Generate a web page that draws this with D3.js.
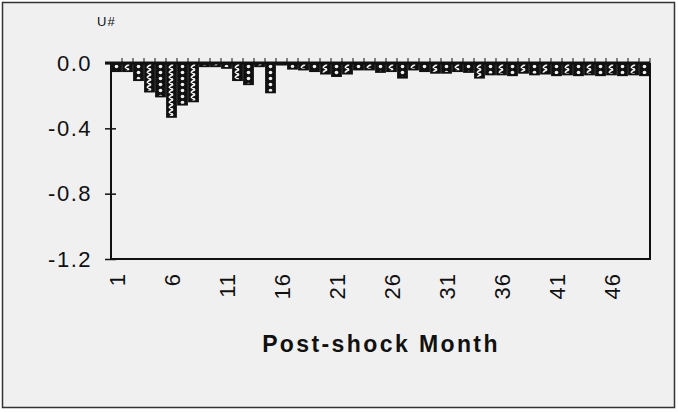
<!DOCTYPE html>
<html>
<head>
<meta charset="utf-8">
<script src="https://cdn.jsdelivr.net/npm/d3@7"></script>
<style>
  body { margin: 0; background: #fff; }
  text { font-family: "Liberation Sans", Arial, sans-serif; fill: #111; }
</style>
</head>
<body>
<script>
// months after the shock
var months = d3.range(1, 50);
// response
var values = [-0.05, -0.05, -0.105, -0.175, -0.205, -0.33, -0.255, -0.235, -0.02, -0.02,
              -0.03, -0.105, -0.13, -0.02, -0.18, -0.01, -0.035, -0.04, -0.05, -0.065,
              -0.08, -0.065, -0.04, -0.04, -0.055, -0.05, -0.09, -0.04, -0.05, -0.06,
              -0.06, -0.05, -0.055, -0.09, -0.07, -0.07, -0.075, -0.06, -0.07, -0.065,
              -0.075, -0.07, -0.075, -0.07, -0.075, -0.07, -0.075, -0.07, -0.075];
var yTicks = [0, -0.4, -0.8, -1.2];
var xLabels = [1, 6, 11, 16, 21, 26, 31, 36, 41, 46];

var width = 678, height = 412;

var svg = d3.select("body").append("svg")
    .attr("width", width)
    .attr("height", height);

// panel background and frame
svg.append("rect")
   .attr("x", 2.5).attr("y", 2.5)
   .attr("width", 672).attr("height", 405)
   .attr("fill", "#f0f0f0")
   .attr("stroke", "#333")
   .attr("stroke-width", 1.5);

var x = d3.scaleBand().domain(months).range([111, 650]).paddingInner(0.18).paddingOuter(0.09);
var y = d3.scaleLinear().domain([-1.2, 0]).range([259, 63]);
var step = x.step();

// fill patterns for the bars
var defs = svg.append("defs");
var dots = defs.append("pattern")
    .attr("id", "dots")
    .attr("patternUnits", "userSpaceOnUse")
    .attr("x", 111).attr("y", 63)
    .attr("width", step).attr("height", 6);
dots.append("rect").attr("width", step).attr("height", 6).attr("fill", "#111");
dots.append("circle").attr("cx", step / 2).attr("cy", 3.5).attr("r", 1.8).attr("fill", "#f0f0f0");

var wavy = defs.append("pattern")
    .attr("id", "wavy")
    .attr("patternUnits", "userSpaceOnUse")
    .attr("x", 111).attr("y", 63)
    .attr("width", step).attr("height", 5);
wavy.append("rect").attr("width", step).attr("height", 5).attr("fill", "#111");
wavy.append("path")
    .attr("d", "M" + (step / 2 - 1.8) + ",0 Q" + (step / 2 + 2.6) + ",1.25 " + (step / 2) + ",2.5 T" + (step / 2 - 1.8) + ",5")
    .attr("fill", "none")
    .attr("stroke", "#f0f0f0")
    .attr("stroke-width", 1.8);

// bars
svg.selectAll("rect.bar")
   .data(values)
   .enter()
   .append("rect")
   .attr("class", "bar")
   .attr("x", function(d, i) { return x(months[i]); })
   .attr("y", y(0))
   .attr("width", x.bandwidth())
   .attr("height", function(d) { return y(d) - y(0); })
   .attr("fill", function(d, i) { return i % 2 == 0 ? "url(#dots)" : "url(#wavy)"; })
   .attr("stroke", "#111")
   .attr("stroke-width", 1.8);

// left, right and bottom frame of the plot
svg.append("path")
   .attr("d", "M111," + y(0) + "V" + y(-1.2) + "H650V" + y(0))
   .attr("fill", "none")
   .attr("stroke", "#111")
   .attr("stroke-width", 2);

// y axis ticks and labels
var yAxis = svg.append("g").attr("transform", "translate(111,0)")
    .call(d3.axisLeft(y).tickValues(yTicks).tickFormat(d3.format(".1f")).tickSize(6).tickSizeOuter(0));
yAxis.select(".domain").remove();
yAxis.selectAll(".tick line").attr("x2", -6).attr("x1", 5).attr("stroke", "#111").attr("stroke-width", 1.5);
yAxis.selectAll(".tick text")
     .attr("x", -19)
     .attr("font-size", 22)
     .attr("letter-spacing", 1.5)
     .attr("font-family", "Liberation Sans, Arial, sans-serif")
     .attr("fill", "#111")
     .text(function(d) { return d3.format(".1f")(d).replace("\u2212", "-"); });

// zero line with small ticks at the month boundaries
svg.append("line")
   .attr("x1", 105).attr("x2", 650)
   .attr("y1", y(0)).attr("y2", y(0))
   .attr("stroke", "#111")
   .attr("stroke-width", 3);
svg.selectAll("line.mtick")
   .data(months)
   .enter()
   .append("line")
   .attr("class", "mtick")
   .attr("x1", function(d) { return x(d) + x.bandwidth() + step * 0.09; })
   .attr("x2", function(d) { return x(d) + x.bandwidth() + step * 0.09; })
   .attr("y1", y(0))
   .attr("y2", y(0) - 5)
   .attr("stroke", "#111")
   .attr("stroke-width", 1);

// rotated month labels
svg.selectAll("text.xlab")
   .data(xLabels)
   .enter()
   .append("text")
   .attr("class", "xlab")
   .attr("transform", function(d) { return "translate(" + (x(d) + x.bandwidth() / 2 + 8) + ",273) rotate(-90)"; })
   .attr("text-anchor", "end")
   .attr("font-size", 22)
   .attr("letter-spacing", 1)
   .text(function(d) { return d; });

// titles
svg.append("text")
   .attr("x", 381).attr("y", 352)
   .attr("text-anchor", "middle")
   .attr("font-size", 23)
   .attr("font-weight", "bold")
   .attr("letter-spacing", 2.4)
   .text("Post-shock Month");

svg.append("text")
   .attr("x", 97).attr("y", 26)
   .attr("font-size", 13)
   .attr("letter-spacing", 1)
   .text("U#");
</script>
</body>
</html>
